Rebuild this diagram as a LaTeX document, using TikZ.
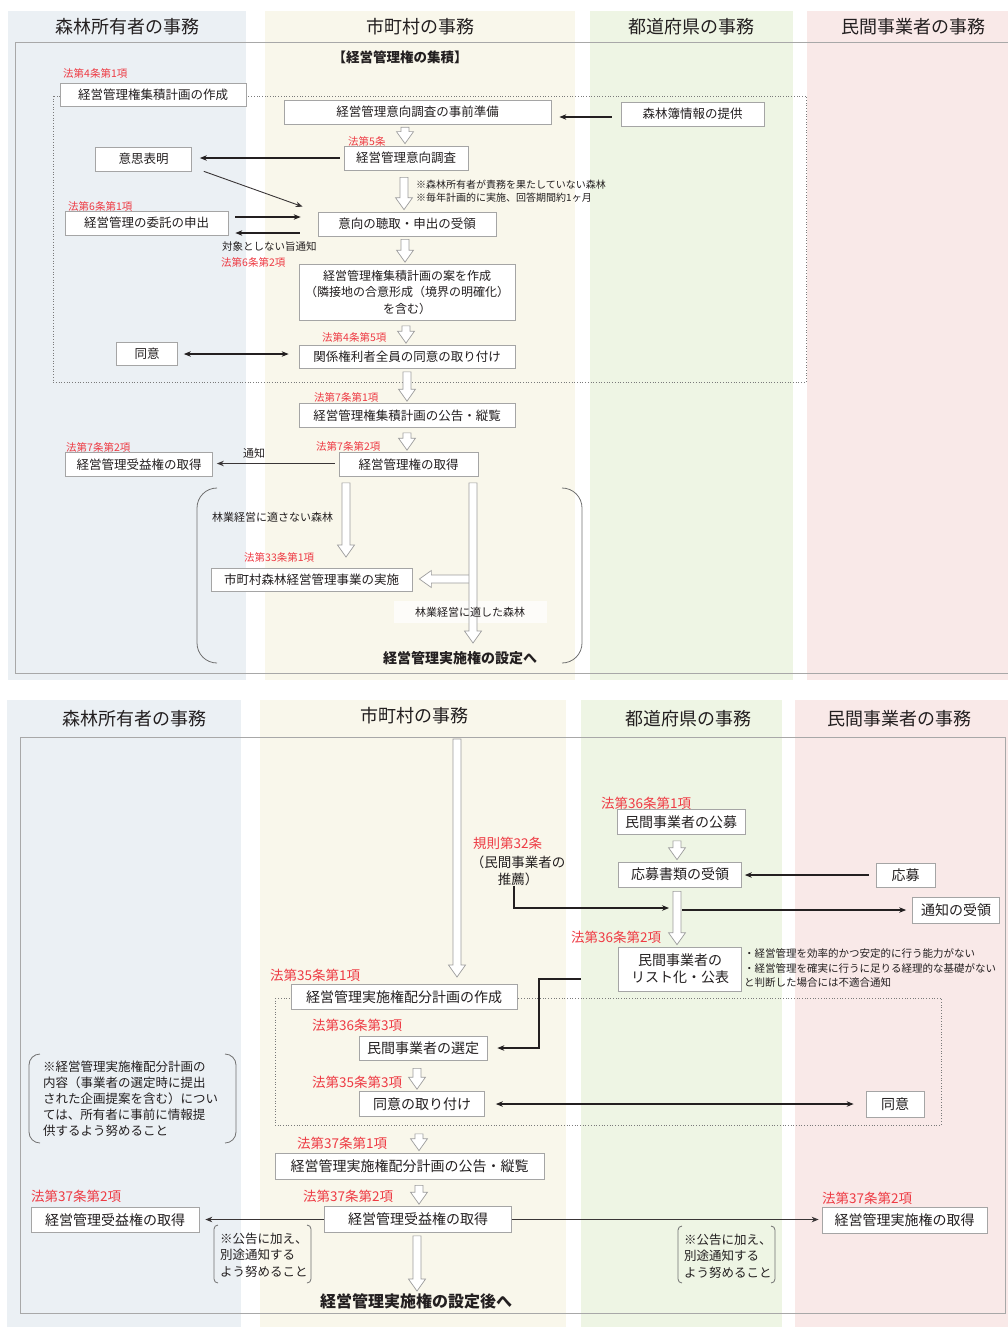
\documentclass[tikz,border=0pt]{standalone}
\usepackage{fontspec}
\setmainfont{Noto Sans CJK JP}
\usetikzlibrary{arrows.meta,calc}
\definecolor{laneA}{HTML}{EBF0F4}
\definecolor{laneB}{HTML}{F9F7EB}
\definecolor{laneC}{HTML}{EEF5E4}
\definecolor{laneD}{HTML}{F9E9E8}
\definecolor{boxline}{HTML}{A5A5A5}
\definecolor{arrowgrey}{HTML}{9C9C9C}
\definecolor{framegrey}{HTML}{A8A8A8}
\definecolor{dotgrey}{HTML}{7A7A7A}
\definecolor{bracketgrey}{HTML}{707070}
\definecolor{lawred}{HTML}{EE3B44}
\definecolor{ink}{HTML}{231F20}
\newcommand{\jpsize}[2]{\fontsize{#1}{#2}\selectfont}
\newcommand{\hollowdown}[4][3pt]{%
  \draw[hollow] let \p1=(#3), \p2=(#4) in
    (#2pt-4pt,\y1-#1) -- (#2pt-4pt,\y2+14pt) -- (#2pt-8.5pt,\y2+14pt)
    -- (#2pt,\y2+2pt) -- (#2pt+8.5pt,\y2+14pt) -- (#2pt+4pt,\y2+14pt)
    -- (#2pt+4pt,\y1-#1) -- cycle;}
\newcommand{\hollowleft}[3]{%
  \draw[hollow] let \p1=(#2), \p2=(#3) in
    (\x1,-#1pt+4pt) -- (\x2+19pt,-#1pt+4pt) -- (\x2+19pt,-#1pt+8.5pt)
    -- (\x2+7pt,-#1pt) -- (\x2+19pt,-#1pt-8.5pt) -- (\x2+19pt,-#1pt-4pt)
    -- (\x1,-#1pt-4pt) -- cycle;}
\newcommand{\parenpair}[5]{%
  \draw[bracket] (#1+#5,#3) to[out=180,in=90] (#1,#3+#5) -- (#1,#4-#5) to[out=-90,in=180] (#1+#5,#4);
  \draw[bracket] (#2-#5,#3) to[out=0,in=90] (#2,#3+#5) -- (#2,#4-#5) to[out=-90,in=0] (#2-#5,#4);}

\begin{document}
\begin{tikzpicture}[x=1pt, y=-1pt, >={Stealth[length=7pt,width=5.5pt]}]
  \tikzset{
    box/.style={draw=boxline, fill=white, line width=0.7pt, inner sep=0pt, align=center, text=ink, font=\jpsize{12.5}{16.5}},
    bigbox/.style={box, font=\jpsize{14}{17}},
    law/.style={anchor=west, inner sep=0pt, text=lawred, font=\jpsize{10.5}{12}},
    biglaw/.style={law, font=\jpsize{13.5}{15}},
    remark/.style={anchor=west, inner sep=0pt, align=left, text=ink, font=\jpsize{10}{13}},
    lanetitle/.style={inner sep=0pt, text=ink, font=\jpsize{18}{20}},
    heading/.style={inner sep=0pt, text=ink, font=\bfseries\jpsize{13.5}{15}},
    link/.style={->, draw=ink, line width=1.3pt},
    twoway/.style={<->, draw=ink, line width=1.3pt},
    fine/.style={->, draw=ink!90, line width=0.9pt},
    hollow/.style={draw=arrowgrey, fill=white, line width=0.7pt},
    outline/.style={draw=framegrey, line width=0.9pt},
    dotframe/.style={draw=dotgrey, dotted, line width=0.7pt},
    bracket/.style={draw=bracketgrey, line width=0.8pt}
  }
  \useasboundingbox (0,0) rectangle (1008,1327);

  \foreach \l/\r/\c in {8/246/laneA, 265/575/laneB, 590/793/laneC, 807/1008/laneD}
    \fill[\c] (\l,11) rectangle (\r,680);
  \foreach \l/\r/\c in {7/241/laneA, 260/566/laneB, 581/782/laneC, 795/1008/laneD}
    \fill[\c] (\l,700) rectangle (\r,1327);

  \node[lanetitle] (ownerA) at (127,27) {森林所有者の事務};
  \node[lanetitle] (townA) at (420,27) {市町村の事務};
  \node[lanetitle] (prefA) at (691,27) {都道府県の事務};
  \node[lanetitle] (firmA) at (913,27) {民間事業者の事務};
  \node[lanetitle] (ownerB) at (134,719) {森林所有者の事務};
  \node[lanetitle] (townB) at (414,716) {市町村の事務};
  \node[lanetitle] (prefB) at (688,719) {都道府県の事務};
  \node[lanetitle] (firmB) at (899,719) {民間事業者の事務};

  \draw[outline] (1008,42) -- (15,42) -- (15,673) -- (1008,673);
  \draw[outline] (20,737) rectangle (1005,1313);
  \draw[dotframe] (53,96) rectangle (806,382);
  \draw[dotframe] (275,998) rectangle (941,1125);

  % upper half
  \node[heading] (gather) at (400,57) {【経営管理権の集積】};
  \node[law] (lawplan) at (63,73) {法第4条第1項};
  \node[box, minimum width=186, minimum height=23] (plan) at (153,95) {経営管理権集積計画の作成};
  \node[box, minimum width=267, minimum height=24] (prep) at (417.5,112) {経営管理意向調査の事前準備};
  \node[box, minimum width=143, minimum height=24] (book) at (692.5,114) {森林簿情報の提供};
  \node[law] (lawsurvey) at (348,141) {法第5条};
  \node[box, minimum width=124, minimum height=24] (survey) at (406,158) {経営管理意向調査};
  \node[box, minimum width=96, minimum height=24] (intent) at (143.5,159) {意思表明};
  \node[remark] (surveynote) at (416,191.5) {※森林所有者が責務を果たしていない森林\\※毎年計画的に実施、回答期間約1ヶ月};
  \node[law] (lawentrust) at (68,206) {法第6条第1項};
  \node[box, minimum width=163, minimum height=24] (entrust) at (146.5,223) {経営管理の委託の申出};
  \node[box, minimum width=178, minimum height=24] (hear) at (407,224) {意向の聴取・申出の受領};
  \node[remark, font=\jpsize{10.5}{12}] (refuse) at (222,247) {対象としない旨通知};
  \node[law] (lawrefuse) at (221,262) {法第6条第2項};
  \node[box, minimum width=216, minimum height=56, font=\jpsize{12}{16.5}] (draft) at (407,292.5) {経営管理権集積計画の案を作成\\（隣接地の合意形成（境界の明確化）\\を含む）};
  \node[law] (lawconsent) at (322,337) {法第4条第5項};
  \node[box, minimum width=216, minimum height=23] (consent) at (407,357) {関係権利者全員の同意の取り付け};
  \node[box, minimum width=61, minimum height=23] (agree) at (147,354) {同意};
  \node[law] (lawpublic) at (314,397) {法第7条第1項};
  \node[box, minimum width=216, minimum height=24] (publicize) at (407,415.5) {経営管理権集積計画の公告・縦覧};
  \node[law] (lawacquire) at (316,446) {法第7条第2項};
  \node[box, minimum width=139, minimum height=24] (acquire) at (408.5,464.5) {経営管理権の取得};
  \node[law] (lawbenefit) at (66,447) {法第7条第2項};
  \node[box, minimum width=147, minimum height=24] (benefit) at (139,464.5) {経営管理受益権の取得};
  \node[remark, font=\jpsize{11}{13}] (notice) at (243,453) {通知};
  \node[remark, font=\jpsize{11}{13}] (unfit) at (212,517) {林業経営に適さない森林};
  \node[law] (lawproject) at (244,557) {法第33条第1項};
  \node[box, minimum width=201, minimum height=23] (project) at (311.5,579.5) {市町村森林経営管理事業の実施};
  \node[heading, font=\bfseries\jpsize{14}{16}] (toset) at (460,658) {経営管理実施権の設定へ};

  \draw[link, shorten <=9pt, shorten >=8pt] ($(book.west)+(0,3)$) -- ($(book.west -| prep.east)+(0,3)$);
  \draw[link, shorten <=4pt, shorten >=8pt] (survey.west) -- (survey.west -| intent.east);
  \draw[fine] ($(intent.south east)+(12,0)$) -- ($(hear.north west)+(-15,-5)$);
  \draw[link] ($(entrust.east)+(7,-6)$) -- ($(entrust.east -| hear.west)+(-17,-6)$);
  \draw[link] ($(entrust.east -| hear.west)+(-18,10)$) -- ($(entrust.east)+(7,10)$);
  \draw[twoway] ($(agree.east)+(6,0)$) -- ($(agree.east -| consent.west)+(-10,0)$);
  \draw[fine] ($(acquire.west)+(-4,-1)$) -- ($(acquire.west -| benefit.east)+(4,-1)$);

  \hollowdown{405}{prep.south}{survey.north}
  \hollowdown[7pt]{404}{survey.south}{hear.north}
  \hollowdown{405}{hear.south}{draft.north}
  \hollowdown[5pt]{406}{draft.south}{consent.north}
  \hollowdown{407}{consent.south}{publicize.north}
  \hollowdown[5pt]{407}{publicize.south}{acquire.north}
  \coordinate (unfitend) at (346,559);
  \coordinate (fitend) at (473,645);
  \coordinate (fitbranch) at (473,579);
  \hollowdown[6pt]{346}{acquire.south}{unfitend}
  \fill[white, opacity=0.7] (394,601) rectangle (547,623);
  \hollowleft{579}{fitbranch}{project.east}
  \hollowdown[6pt]{473}{acquire.south}{fitend}
  \node[remark, anchor=center, font=\jpsize{11}{13}] (fit) at (470,612) {林業経営に適した森林};
  \parenpair{197}{582}{488}{663}{20}

  % lower half
  \node[biglaw] (lawrecruit) at (601,803) {法第36条第1項};
  \node[bigbox, minimum width=128, minimum height=25] (recruit) at (681,822) {民間事業者の公募};
  \node[biglaw] (lawrule) at (473,843) {規則第32条};
  \node[remark, anchor=center, align=center, font=\jpsize{13.5}{17}] (recommend) at (518,870.5) {（民間事業者の\\推薦）};
  \node[bigbox, minimum width=123, minimum height=25] (receive) at (680,874.5) {応募書類の受領};
  \node[bigbox, minimum width=59, minimum height=24] (apply) at (905.5,875) {応募};
  \node[bigbox, minimum width=87, minimum height=26] (notified) at (956,910) {通知の受領};
  \node[biglaw] (lawlist) at (571,937) {法第36条第2項};
  \node[bigbox, minimum width=123, minimum height=44] (listed) at (680,969) {民間事業者の\\リスト化・公表};
  \node[remark, font=\jpsize{10.5}{14.5}] (listnote) at (744,968.5) {・経営管理を効率的かつ安定的に行う能力がない\\・経営管理を確実に行うに足りる経理的な基礎がない\\と判断した場合には不適合通知};
  \node[biglaw] (lawallot) at (270,975) {法第35条第1項};
  \node[bigbox, minimum width=226, minimum height=25] (allot) at (404,997) {経営管理実施権配分計画の作成};
  \node[biglaw] (lawselect) at (312,1025) {法第36条第3項};
  \node[bigbox, minimum width=128, minimum height=24] (select) at (423,1048) {民間事業者の選定};
  \node[biglaw] (lawobtain) at (312,1082) {法第35条第3項};
  \node[bigbox, minimum width=125, minimum height=25] (obtain) at (422,1104) {同意の取り付け};
  \node[bigbox, minimum width=58, minimum height=26] (agreefirm) at (895,1104) {同意};
  \node[remark, font=\jpsize{12.5}{16}] (ownernote) at (43,1099) {※経営管理実施権配分計画の\\内容（事業者の選定時に提出\\された企画提案を含む）につい\\ては、所有者に事前に情報提\\供するよう努めること};
  \parenpair{29}{236}{1054}{1143}{11}
  \node[biglaw] (lawpublish) at (297,1143) {法第37条第1項};
  \node[bigbox, minimum width=269, minimum height=26] (publish) at (409.5,1166) {経営管理実施権配分計画の公告・縦覧};
  \node[biglaw] (lawshare) at (303,1196) {法第37条第2項};
  \node[bigbox, minimum width=187, minimum height=26] (share) at (418,1219.5) {経営管理受益権の取得};
  \node[biglaw] (lawownshare) at (31,1196) {法第37条第2項};
  \node[bigbox, minimum width=168, minimum height=25] (ownshare) at (115,1220) {経営管理受益権の取得};
  \node[biglaw] (lawright) at (822,1198) {法第37条第2項};
  \node[bigbox, minimum width=165, minimum height=26] (right) at (904.5,1220.5) {経営管理実施権の取得};
  \node[remark, font=\jpsize{12.5}{16.5}] (sharenote) at (220,1255) {※公告に加え、\\別途通知する\\よう努めること};
  \parenpair{214}{311}{1225}{1283}{4}
  \node[remark, font=\jpsize{12.5}{16.5}] (rightnote) at (684,1256) {※公告に加え、\\別途通知する\\よう努めること};
  \parenpair{678}{775}{1226}{1283}{4}
  \node[heading, font=\bfseries\jpsize{16}{18}] (toafter) at (416,1301) {経営管理実施権の設定後へ};

  \coordinate (flowtop) at (457,736);
  \coordinate (flowend) at (457,979);
  \hollowdown{457}{flowtop}{flowend}
  \hollowdown[6pt]{677}{recruit.south}{receive.north}
  \hollowdown[4pt]{677}{receive.south}{listed.north}
  \hollowdown[8pt]{417}{select.south}{obtain.north}
  \hollowdown[17pt]{419}{obtain.south}{publish.north}
  \hollowdown[6pt]{419}{publish.south}{share.north}
  \hollowdown{417}{share.south}{toafter.north}

  \coordinate (recin) at (669,908);
  \coordinate (notifyout) at (682,910);
  \coordinate (listout) at (581,979);
  \draw[link] ($(apply.west)+(-7,0)$) -- ($(apply.west -| receive.east)+(3,0)$);
  \draw[link] ($(recommend.south)+(-4,0)$) |- (recin);
  \draw[link, shorten >=6pt] (notifyout) -- (notifyout -| notified.west);
  \draw[link] (listout) -- ++(-42,0) |- ($(select.east)+(10,0)$);
  \draw[twoway] ($(obtain.east)+(11,0)$) -- ($(obtain.east -| agreefirm.west)+(-12,0)$);
  \draw[fine] (share.west) -- ($(share.west -| ownshare.east)+(6,0)$);
  \draw[fine] (share.east) -- ($(share.east -| right.west)+(-3,0)$);
\end{tikzpicture}
\end{document}
